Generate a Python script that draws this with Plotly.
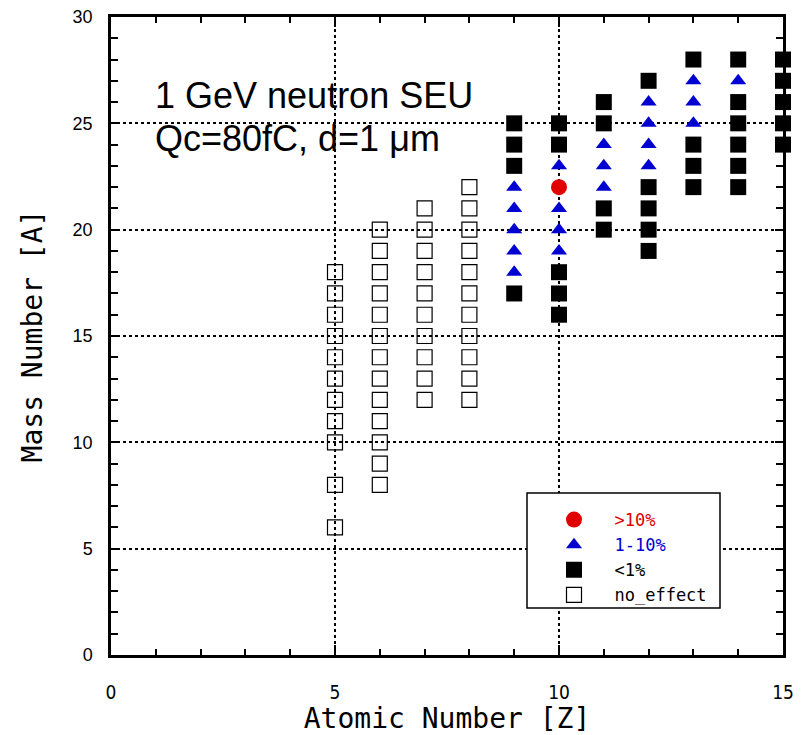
import plotly.graph_objects as go

# ---- data ----
# no effect (open squares)
noeff_Z = [5]*11 + [6]*13 + [7]*10 + [8]*11
noeff_A = [6, 8, 10, 11, 12, 13, 14, 15, 16, 17, 18,
           8, 9, 10, 11, 12, 13, 14, 15, 16, 17, 18, 19, 20,
           12, 13, 14, 15, 16, 17, 18, 19, 20, 21,
           12, 13, 14, 15, 16, 17, 18, 19, 20, 21, 22]

# <1% (filled black squares)
lt1_Z = [9]*4 + [10]*5 + [11]*4 + [12]*5 + [13]*4 + [14]*6 + [15]*5
lt1_A = [25, 24, 23, 17,
         25, 24, 18, 17, 16,
         26, 25, 21, 20,
         27, 22, 21, 20, 19,
         28, 24, 23, 22,
         28, 26, 25, 24, 23, 22,
         28, 27, 26, 25, 24]

# 1-10% (blue triangles)
mid_Z = [9]*5 + [10]*4 + [11]*3 + [12]*4 + [13]*3 + [14]*1
mid_A = [22, 21, 20, 19, 18,
         23, 21, 20, 19,
         24, 23, 22,
         26, 25, 24, 23,
         27, 26, 25,
         27]

# >10% (red circle)
gt10_Z = [10]
gt10_A = [22]

x_ticks = [0, 5, 10, 15]
y_ticks = [0, 5, 10, 15, 20, 25, 30]

MONO = "DejaVu Sans Mono, monospace"
SANS = "Liberation Sans, Arial, sans-serif"
NB = "\u00a0"

fig = go.Figure()
fig.add_trace(go.Scatter(
    x=gt10_Z, y=gt10_A, mode="markers", cliponaxis=False,
    name=NB*2 + '<span style="color:#e00000">&gt;10%</span>',
    marker=dict(symbol="circle", size=16, color="#e00000", line=dict(width=0))))
fig.add_trace(go.Scatter(
    x=mid_Z, y=mid_A, mode="markers", cliponaxis=False,
    name=NB*2 + '<span style="color:#0000d0">1-10%</span>',
    marker=dict(symbol="triangle-up", size=14, color="#0000d0", line=dict(width=0))))
fig.add_trace(go.Scatter(
    x=lt1_Z, y=lt1_A, mode="markers", cliponaxis=False,
    name=NB*2 + "&lt;1%",
    marker=dict(symbol="square", size=16, color="black", line=dict(width=0))))
fig.add_trace(go.Scatter(
    x=noeff_Z, y=noeff_A, mode="markers", cliponaxis=False,
    name=NB*2 + "no_effect",
    marker=dict(symbol="square-open", size=15, color="black", line=dict(width=1.2))))

axis_common = dict(
    showline=True, linewidth=2.5, linecolor="black", mirror="ticks",
    ticks="inside", tickcolor="black", tickwidth=2,
    showgrid=True, gridcolor="black", gridwidth=1.5, griddash="3px,3px",
    zeroline=False, automargin=False,
)

fig.update_xaxes(
    range=[0, 15], tickvals=x_ticks, ticklen=10,
    minor=dict(ticks="inside", dtick=1, ticklen=6, tickwidth=2, tickcolor="black", showgrid=False),
    tickfont=dict(family="DejaVu Sans Condensed, sans-serif", size=19, color="black"),
    ticklabelstandoff=18,
    title=dict(text="Atomic Number [Z]", font=dict(family=MONO, size=28, color="black"), standoff=6),
    **axis_common)
fig.update_yaxes(
    range=[0, 30], tickvals=y_ticks, ticklen=8,
    minor=dict(ticks="inside", dtick=1, ticklen=7, tickwidth=2, tickcolor="black", showgrid=False),
    tickfont=dict(family=SANS, size=18, color="black"),
    ticklabelstandoff=12,
    title=dict(text="Mass Number [A]", font=dict(family=MONO, size=28, color="black"), standoff=22),
    **axis_common)

fig.add_annotation(text="1 GeV neutron SEU", x=0.062, y=0.877, xref="paper", yref="paper",
                   xanchor="left", yanchor="middle", showarrow=False,
                   font=dict(family=SANS, size=36, color="black"))
fig.add_annotation(text="Qc=80fC, d=1 \u03bcm", x=0.062, y=0.810, xref="paper", yref="paper",
                   xanchor="left", yanchor="middle", showarrow=False,
                   font=dict(family=SANS, size=36, color="black"))

# legend frame
fig.add_shape(type="rect", xref="paper", yref="paper",
              x0=(527 - 111) / 672, x1=(720 - 111) / 672,
              y0=(655 - 608) / 638, y1=(655 - 493) / 638,
              line=dict(color="black", width=1.5), fillcolor="white", layer="above")

fig.update_layout(
    width=805, height=735,
    margin=dict(l=111, r=22, t=17, b=80),
    paper_bgcolor="white", plot_bgcolor="white",
    showlegend=True,
    legend=dict(x=(554 - 111) / 672, y=(655 - 502) / 638, xanchor="left", yanchor="top",
                bgcolor="rgba(0,0,0,0)", borderwidth=0,
                font=dict(family=MONO, size=17, color="black"),
                tracegroupgap=0),
)

fig.write_html("out.html")
